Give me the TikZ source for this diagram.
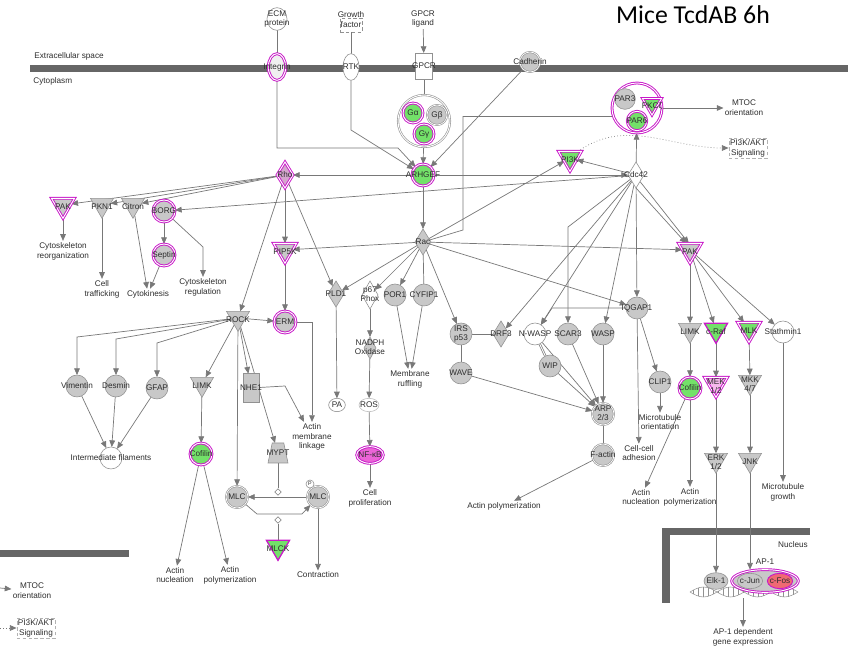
\documentclass[tikz,border=0pt]{standalone}
\usepackage{fontspec}
\setmainfont{Liberation Sans}
\newfontfamily\titlefont{Carlito}
\usepackage{xcolor}
\usepackage{tikz}
\usetikzlibrary{positioning,arrows.meta,shapes.geometric,calc,backgrounds}
\definecolor{nodegray}{RGB}{200,200,200}
\definecolor{rimgray}{RGB}{145,145,145}
\definecolor{edgegray}{RGB}{120,120,120}
\definecolor{membranegray}{RGB}{102,102,102}
\definecolor{textgray}{RGB}{45,45,45}
\definecolor{upmagenta}{RGB}{200,25,200}
\definecolor{upgreen}{RGB}{115,225,105}
\definecolor{uppink}{RGB}{235,100,215}
\definecolor{upsalmon}{RGB}{240,105,115}
\newcommand{\ipasize}{\fontsize{7}{8.4}\selectfont}
\newcommand{\inlbl}[2][-1.8pt]{\smash{\raisebox{#1}{\makebox[0pt]{\begin{tabular}{@{}c@{}}#2\end{tabular}}}}}
\tikzset{
  mol-node/.style={inner sep=0pt, outer sep=0pt, font=\ipasize, text=textgray, line width=0.5pt},
  gray-circle/.style={mol-node, circle, draw=rimgray, fill=nodegray, minimum size=0.66cm},
  gray-ring/.style={gray-circle, double=white, double distance=0.6pt},
  white-circle/.style={gray-circle, fill=white},
  white-oval/.style={mol-node, ellipse, draw=rimgray, fill=white},
  mag-circle/.style={mol-node, circle, draw=upmagenta, line width=0.8pt, double=white,
    double distance=0.8pt, fill=#1, minimum size=0.66cm},
  mag-circle/.default=nodegray,
  gray-tri/.style={mol-node, regular polygon, regular polygon sides=3, shape border rotate=180,
    draw=rimgray, fill=nodegray, minimum size=0.8cm},
  mag-tri/.style={gray-tri, draw=upmagenta, line width=0.8pt, double=white,
    double distance=0.8pt, fill=#1},
  mag-tri/.default=nodegray,
  rim-tri/.style={gray-tri, draw=upmagenta, line width=1.1pt, fill=upgreen},
  gray-diamond/.style={mol-node, diamond, draw=rimgray, fill=nodegray,
    minimum width=0.48cm, minimum height=0.78cm},
  white-diamond/.style={gray-diamond, fill=white},
  mag-diamond/.style={gray-diamond, draw=upmagenta, line width=0.8pt, double=white,
    double distance=0.8pt, fill=nodegray!65!uppink},
  tiny-diamond/.style={diamond, draw=edgegray, fill=white, line width=0.5pt,
    minimum size=0.2cm, inner sep=0pt},
  func-text/.style={font=\ipasize, text=textgray, align=center, inner sep=1pt},
  flow-arrow/.style={-{Triangle[length=2mm, width=1.7mm]}, line width=0.6pt, draw=edgegray},
  link-line/.style={line width=0.6pt, draw=edgegray},
  dotted-arrow/.style={flow-arrow, dotted},
  helix-line/.style={draw=rimgray, line width=0.45pt}
}

\begin{document}
\begin{tikzpicture}[x=0.03cm, y=-0.03cm]
\useasboundingbox (0,0) rectangle (854,653);
\node[func-text, anchor=west] (extsp) at (33,56) {Extracellular space};
\node[func-text, anchor=west] (cytop) at (32,81) {Cytoplasm};
\node[func-text] (nucl) at (793,545) {Nucleus};
\node[font=\titlefont\fontsize{22}{26}\selectfont, inner sep=0pt] (title) at (693,15) {Mice TcdAB 6h};

\node[white-oval, minimum width=0.6cm, minimum height=0.68cm] (ecm) at (277,19) {\inlbl{ECM\\protein}};
\node[mag-circle=gray!12, ellipse, minimum width=0.52cm, minimum height=0.8cm] (integrin) at (277,67) {\inlbl{Integrin}};
\node[mol-node, rectangle, draw=rimgray, densely dashed, minimum width=0.66cm, minimum height=0.42cm] (growth) at (351,25) {\inlbl[2pt]{Growth\\factor}};
\node[white-oval, minimum width=0.48cm, minimum height=0.8cm] (rtk) at (351,67) {\inlbl{RTK}};
\node[func-text] (gpcrlig) at (423,19) {GPCR\\ligand};
\node[mol-node, rectangle, draw=rimgray, fill=white, minimum width=0.5cm, minimum height=0.78cm] (gpcr) at (424,66) {\inlbl{GPCR}};
\node[gray-ring, minimum size=0.6cm] (cadherin) at (530,62) {\inlbl{Cadherin}};

\node[white-circle, double=white, double distance=0.8pt, minimum size=1.56cm] (gprot) at (424,121) {};
\node[mag-circle=upgreen, minimum size=0.6cm] (galpha) at (413,113) {\inlbl{Gα}};
\node[gray-ring, minimum size=0.6cm] (gbeta) at (437,115) {\inlbl{Gβ}};
\node[mag-circle=upgreen, minimum size=0.6cm] (ggamma) at (424,134) {\inlbl{Gγ}};

\node[mag-circle=white, minimum size=1.5cm] (parc) at (637,108) {};
\node[gray-circle, minimum size=0.62cm] (par3) at (625,99) {\inlbl{PAR3}};
\node[mag-circle=upgreen, minimum size=0.58cm] (par6) at (637,121) {\inlbl{PAR6}};
\node[mag-tri=upgreen, minimum size=0.66cm] (pkcz) at (652,104) {\inlbl[-4pt]{PKCζ}};
\node[func-text] (mtoc) at (744,108) {MTOC\\orientation};
\node[func-text, draw=rimgray!70, densely dashed] (pi3kakt) at (748,148) {PI3K/AKT\\Signaling};

\node[mag-circle=upgreen] (arhgef) at (423,175) {\inlbl{ARHGEF}};
\node[mag-diamond] (rho) at (285,175) {\inlbl{Rho}};
\node[white-diamond] (cdc42) at (636,175) {\inlbl{Cdc42}};
\node[gray-diamond] (rac) at (423,242) {\inlbl{Rac}};
\node[gray-diamond] (pld1) at (336,294) {\inlbl{PLD1}};
\node[white-diamond, minimum height=0.84cm] (p67) at (370,295) {\inlbl{p67\\Phox}};
\node[gray-diamond] (drf3) at (501,334) {\inlbl{DRF3}};
\node[gray-diamond, minimum width=0.36cm, minimum height=0.66cm] (nadph) at (370,348) {\inlbl{NADPH\\Oxidase}};

\foreach \nm/\px/\py/\tx in {por1/395/295/POR1, cyfip1/424/295/CYFIP1, irs/461/334/IRS\\p53,
  scar3/568/334/SCAR3, wasp/603/334/WASP, wip/550/366/WIP, wave/461/373/WAVE, clip1/660/382/CLIP1,
  vim/77/386/Vimentin, des/116/386/Desmin, gfap/157/388/GFAP, iqgap/637/308/IQGAP1}
  \node[gray-circle] (\nm) at (\px,\py) {\inlbl{\tx}};
\foreach \nm/\px/\py/\tx in {factin/603/455/F-actin, mlc/237/497/MLC, mlcp/318/497/MLC}
  \node[gray-ring] (\nm) at (\px,\py) {\inlbl{\tx}};
\node[gray-ring] (arp) at (603,414) {\inlbl{ARP\\2/3}};
\foreach \nm/\px/\py/\tx in {nwasp/535/334/N-WASP, stathmin/783/332/Stathmin1, intfil/111/458/Intermediate filaments}
  \node[white-circle] (\nm) at (\px,\py) {\inlbl{\tx}};
\foreach \nm/\px/\py/\tx in {borg/164/211/BORG, septin/164/255/Septin, erm/285/322/ERM}
  \node[mag-circle] (\nm) at (\px,\py) {\inlbl{\tx}};
\foreach \nm/\px/\py/\tx in {cofl/201/454/Cofilin, cofr/690/388/Cofilin}
  \node[mag-circle=upgreen] (\nm) at (\px,\py) {\inlbl{\tx}};

\foreach \nm/\px/\py/\tx in {pkn1/102/205/PKN1, citron/133/205/Citron, rock/238/318/ROCK,
  liml/202/384/LIMK, limr/690/330/LIMK, jnk/750/460/JNK}
  \node[gray-tri] (\nm) at (\px,\py) {\inlbl[-4.3pt]{\tx}};
\node[gray-tri] (mkk) at (750,382) {\inlbl[-4.3pt]{MKK\\4/7}};
\node[gray-tri] (erk) at (716,460) {\inlbl[-4.3pt]{ERK\\1/2}};
\foreach \nm/\px/\py/\tx in {pak/63/205/PAK, pip5k/285/250/PIP5K, pakr/690/250/PAK}
  \node[mag-tri] (\nm) at (\px,\py) {\inlbl[-4.3pt]{\tx}};
\foreach \nm/\px/\py/\tx in {pi3k/570/158/PI3K, mlk/749/329/MLK}
  \node[mag-tri=upgreen] (\nm) at (\px,\py) {\inlbl[-4.3pt]{\tx}};
\node[mag-tri=uppink!45] (mek) at (716,384) {\inlbl[-4.3pt]{MEK\\1/2}};
\foreach \nm/\px/\py/\tx in {craf/716/330/c-Raf, mlck/278/547/MLCK}
  \node[rim-tri] (\nm) at (\px,\py) {\inlbl[-4.3pt]{\tx}};

\node[mol-node, rectangle, draw=rimgray, fill=nodegray, minimum width=0.48cm, minimum height=0.86cm] (nhe1) at (251,388) {\inlbl{NHE1}};
\node[mol-node, inner sep=1pt, trapezium, trapezium stretches=true, trapezium left angle=70, trapezium right angle=70,
  draw=rimgray, fill=nodegray, minimum width=0.6cm, minimum height=0.6cm] (mypt) at (278,453) {\inlbl{MYPT}};
\node[white-circle, minimum size=0.24cm, font=\fontsize{4.5}{5}\selectfont] (ptag) at (310,484) {P};
\node[tiny-diamond] (myptd) at (278,492) {};
\node[tiny-diamond] (mlckd) at (278,520) {};
\node[white-oval, minimum width=0.5cm, minimum height=0.4cm] (pa) at (337,405) {\inlbl{PA}};
\node[white-oval, draw=rimgray!60, minimum width=0.6cm, minimum height=0.4cm] (ros) at (369,405) {\inlbl{ROS}};
\node[mag-circle=uppink, ellipse, minimum width=0.8cm, minimum height=0.5cm] (nfkb) at (370,455) {\inlbl{NF-κB}};

\foreach \nm/\px/\py/\tx in {cytoreorg/63/251/Cytoskeleton\\reorganization, celltraf/102/289/Cell\\trafficking,
  cytokin/148/294/Cytokinesis, cytoreg/203/287/Cytoskeleton\\regulation, actmem/312/437/Actin\\membrane\\linkage,
  actnucl/175/575/Actin\\nucleation, actpoll/230/575/Actin\\polymerization, contract/318/575/Contraction,
  cellprol/370/498/Cell\\proliferation, membruf/410/379/Membrane\\ruffling, actpolm/504/506/Actin polymerization,
  mtorient/660/422/Microtubule\\orientation, cellcell/639/453/Cell-cell\\adhesion, actnucr/641/497/Actin\\nucleation,
  actpolr/690/497/Actin\\polymerization, mtgrowth/783/492/Microtubule\\growth, mtocl/32/591/MTOC\\orientation}
  \node[func-text] (\nm) at (\px,\py) {\tx};
\node[func-text, draw=rimgray!70, densely dashed] (aktl) at (36,628) {PI3K/AKT\\Signaling};

\draw[helix-line] (690,592) sin (703.5,597) cos (717,592) sin (730.5,587) cos (744,592)
  sin (757.5,597) cos (771,592) sin (784.5,587) cos (798,592);
\draw[helix-line] (690,592) sin (703.5,587) cos (717,592) sin (730.5,597) cos (744,592)
  sin (757.5,587) cos (771,592) sin (784.5,597) cos (798,592);
\foreach \xx in {693,698,...,796} {
  \pgfmathsetmacro\dy{5*sin((\xx-690)*20/3)}
  \draw[helix-line] (\xx, {592+\dy}) -- (\xx, {592-\dy});
}
\node[gray-circle, ellipse, minimum width=0.72cm, minimum height=0.5cm] (elk) at (716,581) {\inlbl{Elk-1}};
\node[mag-circle, ellipse, minimum width=2cm, minimum height=0.68cm] (ap1) at (765,581) {};
\node[gray-circle, ellipse, minimum width=0.76cm, minimum height=0.46cm] (cjun) at (750,581) {\inlbl{c-Jun}};
\node[mol-node, ellipse, draw=upmagenta, line width=0.8pt, fill=upsalmon, minimum width=0.76cm, minimum height=0.46cm] (cfos) at (780,581) {\inlbl{c-Fos}};
\node[func-text] (ap1lbl) at (765,562) {AP-1};
\coordinate (dnaout) at (743,598);
\node[func-text] (geneexp) at (743,637) {AP-1 dependent\\gene expression};
\coordinate (mtocsrc) at (0,588);
\coordinate (aktsrc) at (0,628);

\begin{scope}[on background layer]
\fill[membranegray] (30,65) rectangle (848,72);
\fill[membranegray] (0,550) rectangle (129,557);
\fill[membranegray] (662,528) rectangle (810,535);
\fill[membranegray] (662,528) rectangle (670,603);
\foreach \a/\b in {gpcrlig/gpcr, gprot/arhgef, cadherin/arhgef, arhgef/rho, arhgef/rac, arhgef/cdc42,
  cdc42/pi3k, rac/pi3k, cdc42/parc, parc/mtoc, cdc42/borg, rho/pak, rho/pkn1, rho/citron,
  pak/cytoreorg, pkn1/celltraf, citron/cytokin, borg/septin, septin/cytokin, rho/rock, rho/pip5k,
  rho/pld1, rac/pip5k, pip5k/erm, rock/erm, vim/intfil, des/intfil, gfap/intfil, rock/liml, rock/nhe1,
  rock/mlc, rock/mypt, liml/cofl, cofl/actnucl, cofl/actpoll, mlcp/mlc, mlcp/contract, rac/pld1,
  rac/p67, rac/por1, rac/irs, pld1/pa, p67/nadph, nadph/ros, ros/nfkb, nfkb/cellprol, por1/membruf,
  cyfip1/membruf, wave/arp, cdc42/drf3, cdc42/nwasp, cdc42/wasp, cdc42/iqgap, rac/iqgap, rac/pakr,
  nwasp/arp, wip/arp, scar3/arp, wasp/arp, factin/actpolm, iqgap/cellcell, iqgap/clip1, clip1/mtorient,
  pakr/limr, pakr/craf, pakr/mlk, pakr/stathmin, limr/cofr, cofr/actnucr, cofr/actpolr, craf/mek,
  mek/erk, mlk/mkk, mkk/jnk, erk/elk, stathmin/mtgrowth, dnaout/geneexp, mtocsrc/mtocl}
  \draw[flow-arrow] (\a) -- (\b);
\foreach \a/\b in {ecm/integrin, growth/rtk, gpcr/gprot, rac/cyfip1, irs/drf3, irs/wave, arp/factin,
  mypt/myptd, mlck/mlckd}
  \draw[link-line] (\a) -- (\b);
\draw[link-line, double=white, double distance=0.8pt] (nwasp) -- (wip);
\draw[flow-arrow] (integrin.south) -- (277,148) -- (398,148) -- (arhgef);
\draw[flow-arrow] (rtk) -- (351,130) -- (arhgef);
\draw[link-line] (rac) -- (463,230) |- (parc.200);
\draw[flow-arrow] (borg) -- (203,247) -- (cytoreg);
\draw[flow-arrow] (erm) -| (actmem);
\draw[flow-arrow] (rock) -- (77,337) -- (vim);
\draw[flow-arrow] (rock) -- (116,339) -- (des);
\draw[flow-arrow] (rock) -- (157,343) -- (gfap);
\draw[flow-arrow] (nhe1) -- (285,386) -- (actmem);
\draw[flow-arrow] (mlc) -- (257,514) -- (302,514) -- (mlcp);
\draw[flow-arrow] (iqgap) -- (552,308) -- (nwasp);
\draw[flow-arrow] (cdc42) -- (568,227) -- (scar3);
\draw[flow-arrow] (cdc42.south) -- (pakr.120);
\draw[flow-arrow] (cdc42.south east) -- (pakr.100);
\draw[flow-arrow] (jnk) -- (jnk |- ap1.north);
\draw[dotted-arrow] (pi3k.40) to[out=35, in=180] (pi3kakt);
\draw[dotted-arrow] (aktsrc) -- (aktl);
\end{scope}
\end{tikzpicture}
\end{document}
